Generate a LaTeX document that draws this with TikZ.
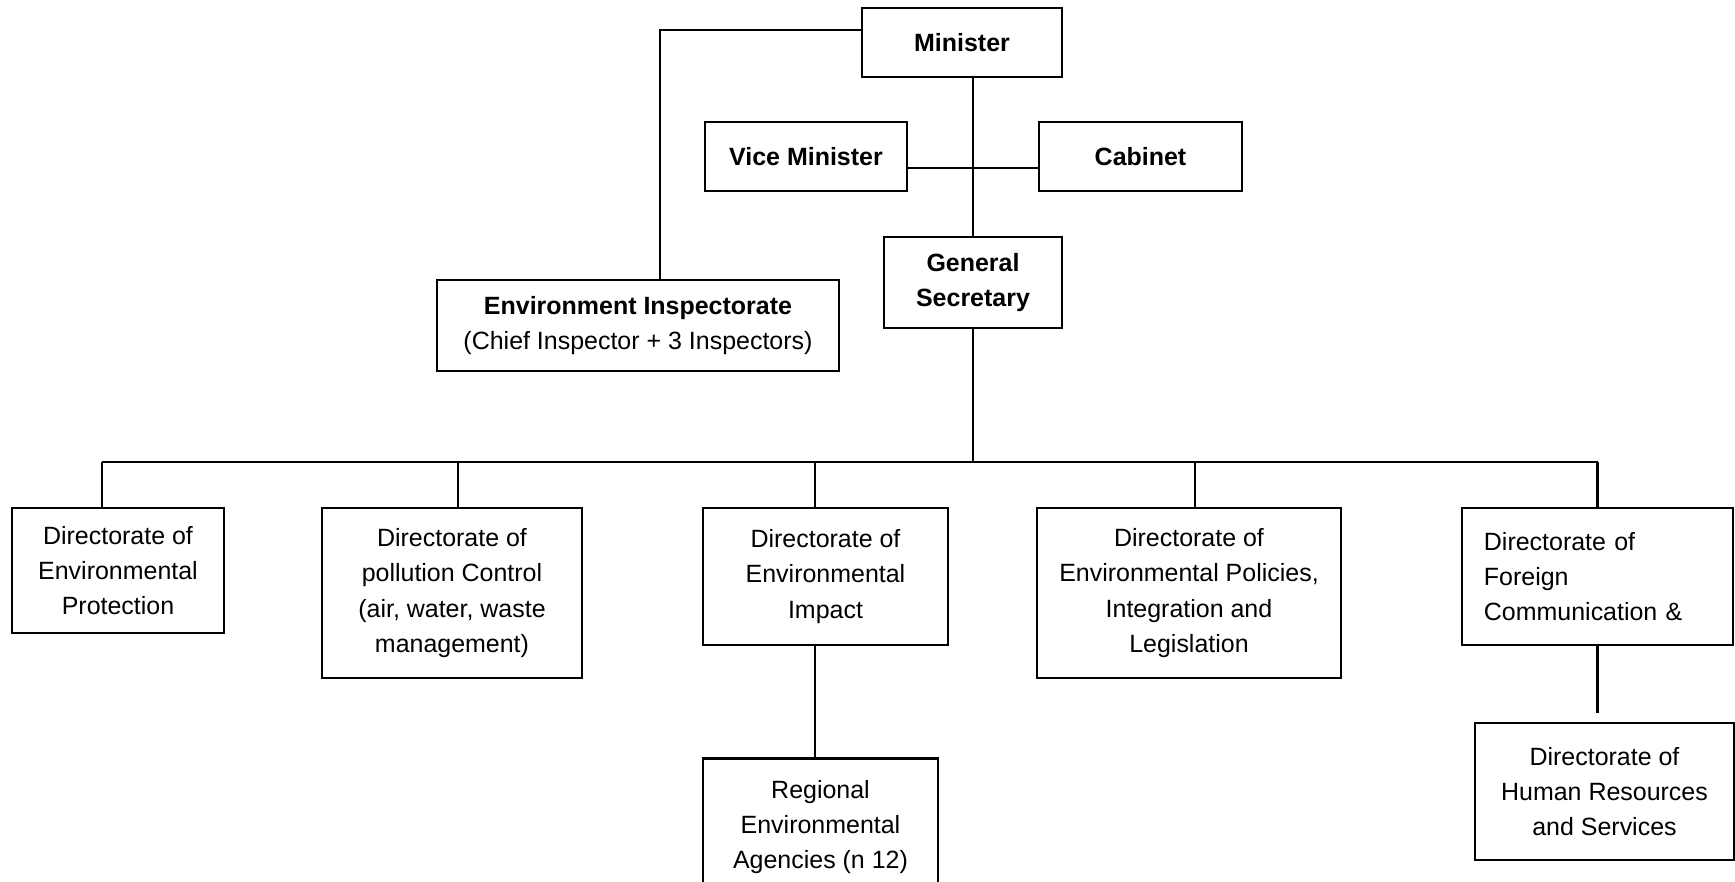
\documentclass[tikz,border=0pt]{standalone}
\usepackage{fontspec}
\setmainfont{Liberation Sans}
\tikzset{
  unit/.style={draw, line width=0.7pt, align=center, inner sep=2pt,
    font=\fontsize{7.1}{10}\selectfont},
  head/.style={unit, font=\fontsize{7.1}{10}\selectfont\bfseries}
}
\begin{document}
\begin{tikzpicture}[x=0.01cm,y=-0.01cm,line width=0.7pt]
\useasboundingbox (0,0) rectangle (1735,881);
\coordinate (bus) at (0,462);
\node[head, minimum width=2cm, minimum height=0.69cm] (minister) at (962,42.5) {Minister};
\node[head, minimum width=2.02cm, minimum height=0.69cm] (vice) at (806,156.5) {Vice Minister};
\node[head, minimum width=2.03cm, minimum height=0.69cm] (cabinet) at (1140.5,156.5) {Cabinet};
\node[head, minimum width=1.78cm, minimum height=0.91cm] (gensec) at (973,282.5) {General\\Secretary};
\node[unit, minimum width=4.02cm, minimum height=0.91cm] (insp) at (638,325.5) {\textbf{Environment Inspectorate}\\(Chief Inspector + 3 Inspectors)};
\node[unit, minimum width=2.12cm, minimum height=1.25cm] (d1) at (118,570.5) {Directorate of\\Environmental\\Protection};
\node[unit, minimum width=2.6cm, minimum height=1.7cm] (d2) at (452,593) {Directorate of\\pollution Control\\(air, water, waste\\management)};
\node[unit, minimum width=2.45cm, minimum height=1.37cm] (d3) at (825.5,576.5) {Directorate of\\Environmental\\Impact};
\node[unit, minimum width=3.04cm, minimum height=1.7cm] (d4) at (1189,593) {Directorate of\\Environmental Policies,\\Integration and\\Legislation};
\node[unit, align=left, text width=2.27cm, inner xsep=0.22cm, minimum height=1.37cm] (d5) at (1597.5,576.5) {Directorate of\\Foreign\\Communication \&};
\node[unit, minimum width=2.35cm, minimum height=1.37cm] (reg) at (820.5,827) {Regional\\Environmental\\Agencies (n 12)};
\node[unit, minimum width=2.59cm, minimum height=1.37cm] (hr) at (1604.5,791.5) {Directorate of\\Human Resources\\and Services};
\draw ([yshift=0.125cm]minister.west) -| ([xshift=0.22cm]insp.north);
\draw (gensec.north |- minister.south) -- (gensec.north);
\draw ([yshift=-0.115cm]vice.east) -- ([yshift=-0.115cm]cabinet.west);
\draw (gensec.south) -- (gensec.south |- bus);
\draw ([xshift=-0.16cm]d1.north |- bus) -- (d5.north |- bus);
\foreach \n/\dx in {d1/-0.16,d2/0.06,d3/-0.105,d4/0.06,d5/0}
  \draw ([xshift=\dx cm]\n.north) -- ([xshift=\dx cm]\n.north |- bus);
\draw ([xshift=-0.105cm]d3.south) -- ([xshift=-0.105cm]d3.south |- reg.north);
\draw[shorten >=0.09cm] (d5.south) -- (d5.south |- hr.north);
\end{tikzpicture}
\end{document}
